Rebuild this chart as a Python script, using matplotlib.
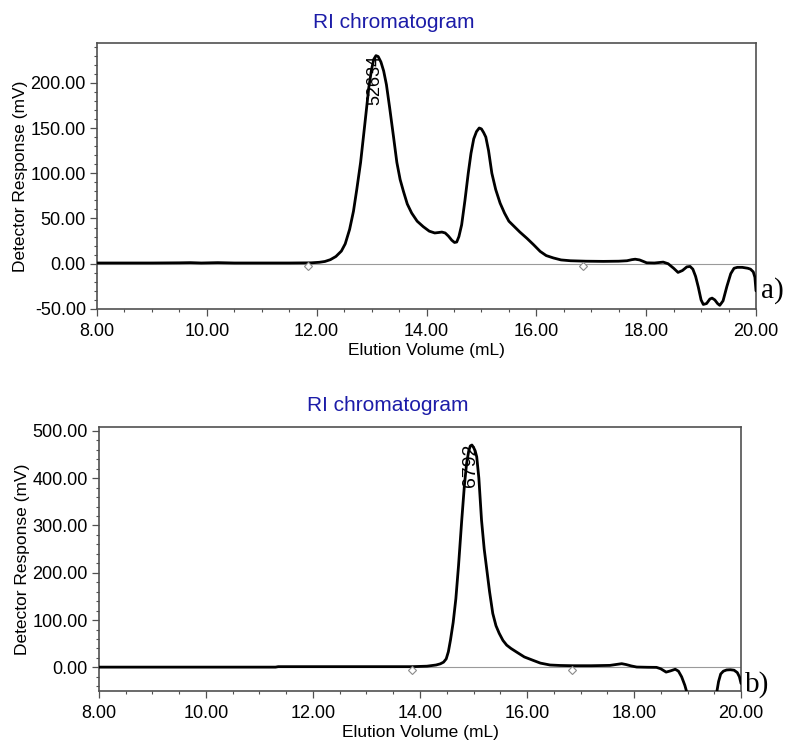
import matplotlib
matplotlib.use("Agg")
import matplotlib.pyplot as plt
from matplotlib.ticker import MultipleLocator, FormatStrFormatter

plt.rcParams["font.family"] = ["Liberation Sans", "DejaVu Sans"]

TITLE_BLUE = "#1c1ca8"
SPINE = "#505050"
BASE = "#9a9a9a"

# panel a): elution volume (mL), response (mV)
vol_a = [8.0, 9.0, 9.5, 9.7, 9.9, 10.2, 10.5, 11.0, 11.5, 11.9, 12.05, 12.15,
         12.25, 12.35, 12.45, 12.52, 12.6, 12.67, 12.73, 12.8, 12.88, 12.95,
         13.0, 13.04, 13.08, 13.12, 13.17, 13.22, 13.27, 13.33, 13.4, 13.46,
         13.52, 13.58, 13.65, 13.73, 13.83, 13.94, 14.05, 14.15, 14.22, 14.28,
         14.34, 14.4, 14.46, 14.51, 14.55, 14.59, 14.64, 14.7, 14.76, 14.81,
         14.86, 14.91, 14.96, 15.0, 15.04, 15.08, 15.13, 15.19, 15.26, 15.34,
         15.42, 15.5, 15.6, 15.7, 15.83, 15.95, 16.07, 16.18, 16.31, 16.45,
         16.62, 16.9, 17.22, 17.5, 17.65, 17.74, 17.8, 17.88, 17.95, 18.01,
         18.15, 18.31, 18.4, 18.5, 18.58, 18.66, 18.74, 18.8, 18.85, 18.9,
         18.95, 19.0, 19.04, 19.1, 19.16, 19.2, 19.25, 19.3, 19.34, 19.4,
         19.47, 19.54, 19.6, 19.66, 19.75, 19.85, 19.9, 19.95, 19.98, 20.0]
resp_a = [0.8, 0.8, 1.0, 1.2, 0.8, 1.2, 0.8, 0.8, 0.8, 1.0, 1.6, 2.5,
          4.5, 8, 14, 22, 38, 58, 82, 112, 156, 195,
          215, 226, 230, 229, 223, 213, 198, 172, 140, 112,
          93, 80, 66, 56, 47, 41, 36, 34, 34.5, 35,
          34, 30.5, 26, 23.5, 24, 30, 43, 70, 100, 122,
          138, 146, 150, 149, 145, 140, 125, 100, 82, 67,
          56, 47, 41, 35, 28, 21, 13.6, 9, 6.4, 4.2,
          3.3, 2.8, 2.6, 2.8, 3.3, 4.5, 5, 4.2, 2.5, 1,
          0.8, 1.8, 0, -5, -9.6, -7.5, -3.5, -3, -6, -14,
          -26, -40, -45, -44, -39, -38, -40, -44, -46, -41,
          -25, -11, -5, -4, -4, -5, -6, -9, -15, -30]

# panel b)
vol_b = [8.0, 11.3, 11.35, 12.0, 13.0, 13.85, 14.13, 14.3, 14.38, 14.44,
         14.49, 14.53, 14.57, 14.62, 14.67, 14.72, 14.78, 14.83, 14.87, 14.91,
         14.94, 14.97, 15.0, 15.03, 15.06, 15.1, 15.15, 15.2, 15.25, 15.3,
         15.36, 15.42, 15.48, 15.55, 15.62, 15.7, 15.81, 15.95, 16.11, 16.25,
         16.43, 16.62, 16.85, 17.2, 17.55, 17.66, 17.77, 17.85, 17.95, 18.05,
         18.25, 18.42, 18.5, 18.6, 18.68, 18.77, 18.83, 18.89, 18.95, 18.98,
         19.05, 19.3, 19.5, 19.55, 19.58, 19.62, 19.67, 19.73, 19.8, 19.87,
         19.93, 19.97, 20.0]
resp_b = [0.5, 0.5, 1.5, 1.5, 1.5, 1.5, 2.5, 5, 7.5, 11,
          18, 33, 58, 95, 145, 215, 311, 385, 430, 457,
          468, 470, 465, 458, 445, 400, 311, 250, 205, 160,
          114, 88, 72, 57, 47, 40, 32, 22, 15, 9,
          5, 4, 3.5, 3.5, 4.2, 6, 7.8, 6, 3, 0.7,
          0.2, 0, -3, -10, -7.5, -4, -8, -20, -38, -50,
          -75, -95, -70, -50, -30, -14, -8, -5.5, -5, -6,
          -11, -20, -34]

# integration limits (diamonds) and peak labels
marks_a = [11.85, 16.85]
marks_b = [13.85, 16.85]
peak_a = (13.05, 231, "52634")
peak_b = (14.94, 472, "6792")


def style_axes(ax, ylim, yminor, yticks):
    ax.set_xlim(8, 20)
    ax.set_ylim(*ylim)
    ax.xaxis.set_major_locator(MultipleLocator(2))
    ax.xaxis.set_minor_locator(MultipleLocator(0.5))
    ax.yaxis.set_minor_locator(MultipleLocator(yminor))
    ax.set_yticks(yticks)
    ax.xaxis.set_major_formatter(FormatStrFormatter("%.2f"))
    ax.yaxis.set_major_formatter(FormatStrFormatter("%.2f"))
    ax.tick_params(which="major", length=5, width=0.9, color=SPINE,
                   labelsize=13, pad=3)
    ax.tick_params(axis="x", which="major", pad=5)
    ax.tick_params(which="minor", length=2.5, width=0.8, color=SPINE)
    for s in ax.spines.values():
        s.set_color(SPINE)
        s.set_linewidth(1.2)
    ax.set_xlabel("Elution Volume (mL)", fontsize=12.5, labelpad=2)
    ax.set_ylabel("Detector Response (mV)", fontsize=12.5, labelpad=2)


fig = plt.figure(figsize=(7.88, 7.42), dpi=100)
ax1 = fig.add_axes([0.1231, 0.5836, 0.8363, 0.3585])
ax2 = fig.add_axes([0.1256, 0.0687, 0.8148, 0.3558])

panels = [(ax1, vol_a, resp_a, marks_a, peak_a, -3, 13),
          (ax2, vol_b, resp_b, marks_b, peak_b, -6, 14)]
for ax, v, r, marks, peak, mark_y, fs in panels:
    ax.axhline(0, color=BASE, lw=0.8, zorder=1)
    ax.plot(v, r, color="black", lw=2.0, zorder=3,
            solid_joinstyle="round", solid_capstyle="round")
    ax.plot(marks, [mark_y] * len(marks), linestyle="none", marker="D",
            ms=4.5, mfc="white", mec="#8a8a8a", mew=0.8, zorder=4)
    ax.text(peak[0], peak[1], peak[2], rotation=90, ha="center", va="top",
            fontsize=fs, zorder=5)

style_axes(ax1, (-50, 244), 10, [-50, 0, 50, 100, 150, 200])
style_axes(ax2, (-50, 508), 20, [0, 100, 200, 300, 400, 500])

fig.text(0.5, 0.970, "RI chromatogram", color=TITLE_BLUE, fontsize=15,
         ha="center", va="center")
fig.text(0.492, 0.454, "RI chromatogram", color=TITLE_BLUE, fontsize=15,
         ha="center", va="center")

fig.text(0.966, 0.609, "a)", family=["Liberation Serif", "DejaVu Serif"],
         fontsize=21, ha="left", va="center")
fig.text(0.946, 0.077, "b)", family=["Liberation Serif", "DejaVu Serif"],
         fontsize=21, ha="left", va="center")

fig.savefig("out.png", dpi=100, facecolor="white")
